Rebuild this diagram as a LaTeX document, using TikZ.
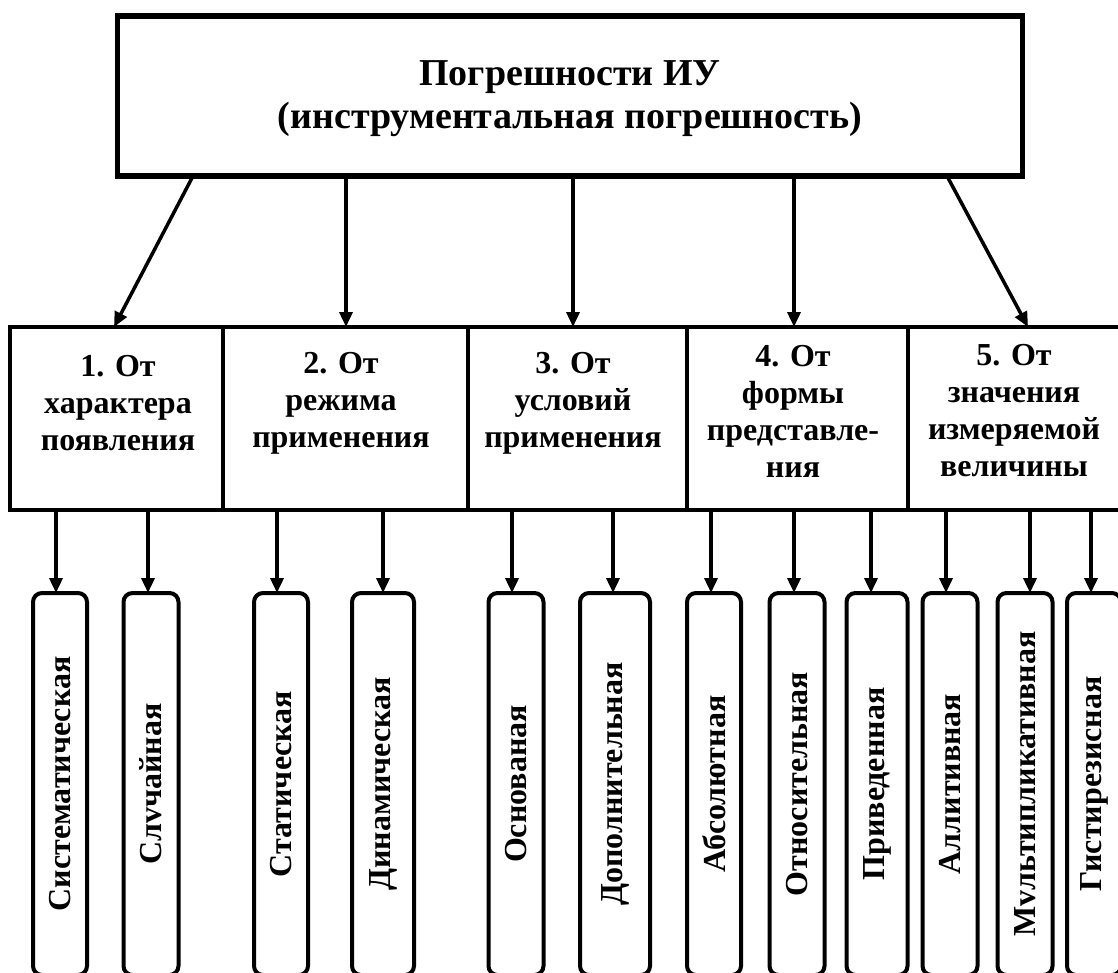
\documentclass[tikz,border=0pt]{standalone}
\usepackage{fontspec}
\setmainfont{Liberation Serif}
\usetikzlibrary{arrows.meta}
\begin{document}
\begin{tikzpicture}[x=1pt,y=-1pt,
  box/.style={draw, line width=4.5pt, inner sep=0pt, outer sep=0pt, minimum height=183pt},
  leafbox/.style={draw, line width=4pt, rounded corners=9pt, inner sep=0pt, outer sep=0pt, minimum height=382pt},
  cattext/.style={align=center, inner sep=0pt, font=\fontsize{32}{37}\selectfont\bfseries},
  leaftext/.style={rotate=90, inner sep=0pt, font=\fontsize{32}{37}\selectfont\bfseries},
  arr/.style={line width=3.5pt, -{Triangle[length=15pt,width=13pt]}}
]
\useasboundingbox (0,0) rectangle (1118,972);
\clip (0,0) rectangle (1118,972);
% top box
\node[draw, line width=5.5pt, inner sep=0pt, outer sep=0pt, minimum width=905pt, minimum height=160pt] (top) at (570,96) {};
\node[align=center, inner sep=0pt, font=\fontsize{38}{43}\selectfont\bfseries] (tt) at (570,99)
      {Погрешности ИУ\\(инструментальная погрешность)};
% category boxes
\node[box, minimum width=213pt] (c1) at (116.5,418.5) {};
\node[box, minimum width=245pt] (c2) at (345.5,418.5) {};
\node[box, minimum width=219pt] (c3) at (577.5,418.5) {};
\node[box, minimum width=221pt] (c4) at (797.5,418.5) {};
\node[box, minimum width=216pt] (c5) at (1016,418.5) {};
\node[cattext] (t1) at (118,403) {1. От\\характера\\появления};
\node[cattext] (t2) at (341,403) {2. От\\режима\\применения};
\node[cattext] (t3) at (573,403) {3. От\\условий\\применения};
\node[cattext] (t4) at (793,411) {4. От\\формы\\представле-\\ния};
\node[cattext] (t5) at (1014,411) {5. От\\значения\\измеряемой\\величины};
% leaf boxes
\node[leafbox, minimum width=54pt] (l1) at (60,784) {};
\node[leafbox, minimum width=55pt] (l2) at (151,784) {};
\node[leafbox, minimum width=54pt] (l3) at (281,784) {};
\node[leafbox, minimum width=62pt] (l4) at (383,784) {};
\node[leafbox, minimum width=55pt] (l5) at (516,784) {};
\node[leafbox, minimum width=70pt] (l6) at (615,784) {};
\node[leafbox, minimum width=54pt] (l7) at (714,784) {};
\node[leafbox, minimum width=55pt] (l8) at (797,784) {};
\node[leafbox, minimum width=61pt] (l9) at (877,784) {};
\node[leafbox, minimum width=55pt] (l10) at (950,784) {};
\node[leafbox, minimum width=55pt] (l11) at (1025,784) {};
\node[leafbox, minimum width=54pt] (l12) at (1094,784) {};
\node[leaftext] (x1) at (l1) {Систематическая};
\node[leaftext] (x2) at (l2) {Слvчайная};
\node[leaftext] (x3) at (l3) {Статическая};
\node[leaftext] (x4) at (l4) {Динамическая};
\node[leaftext] (x5) at (l5) {Основаная};
\node[leaftext] (x6) at (l6) {Дополнительная};
\node[leaftext] (x7) at (l7) {Абсолютная};
\node[leaftext] (x8) at (l8) {Относительная};
\node[leaftext] (x9) at (l9) {Приведенная};
\node[leaftext] (x10) at (l10) {Аллитивная};
\node[leaftext] (x11) at (l11) {Мvльтипликативная};
\node[leaftext] (x12) at (l12) {Гистирезисная};
% top arrows
\draw[arr] (top.south -| 193,0) -- (c1.north -| 114,0);
\draw[arr] (top.south -| 346,0) -- (c2.north -| 346,0);
\draw[arr] (top.south -| 573,0) -- (c3.north -| 573,0);
\draw[arr] (top.south -| 794,0) -- (c4.north -| 794,0);
\draw[arr] (top.south -| 947,0) -- (c5.north -| 1028,0);
% leaf arrows
\draw[arr] (c1.south -| 56,0) -- (l1.north -| 56,0);
\draw[arr] (c1.south -| 148,0) -- (l2.north -| 148,0);
\draw[arr] (c2.south -| 277,0) -- (l3.north -| 277,0);
\draw[arr] (c2.south -| 383,0) -- (l4.north -| 383,0);
\draw[arr] (c3.south -| 512,0) -- (l5.north -| 512,0);
\draw[arr] (c3.south -| 613,0) -- (l6.north -| 613,0);
\draw[arr] (c4.south -| 711,0) -- (l7.north -| 711,0);
\draw[arr] (c4.south -| 794,0) -- (l8.north -| 794,0);
\draw[arr] (c4.south -| 871,0) -- (l9.north -| 871,0);
\draw[arr] (c5.south -| 946,0) -- (l10.north -| 946,0);
\draw[arr] (c5.south -| 1030,0) -- (l11.north -| 1030,0);
\draw[arr] (c5.south -| 1091,0) -- (l12.north -| 1091,0);
\end{tikzpicture}
\end{document}
